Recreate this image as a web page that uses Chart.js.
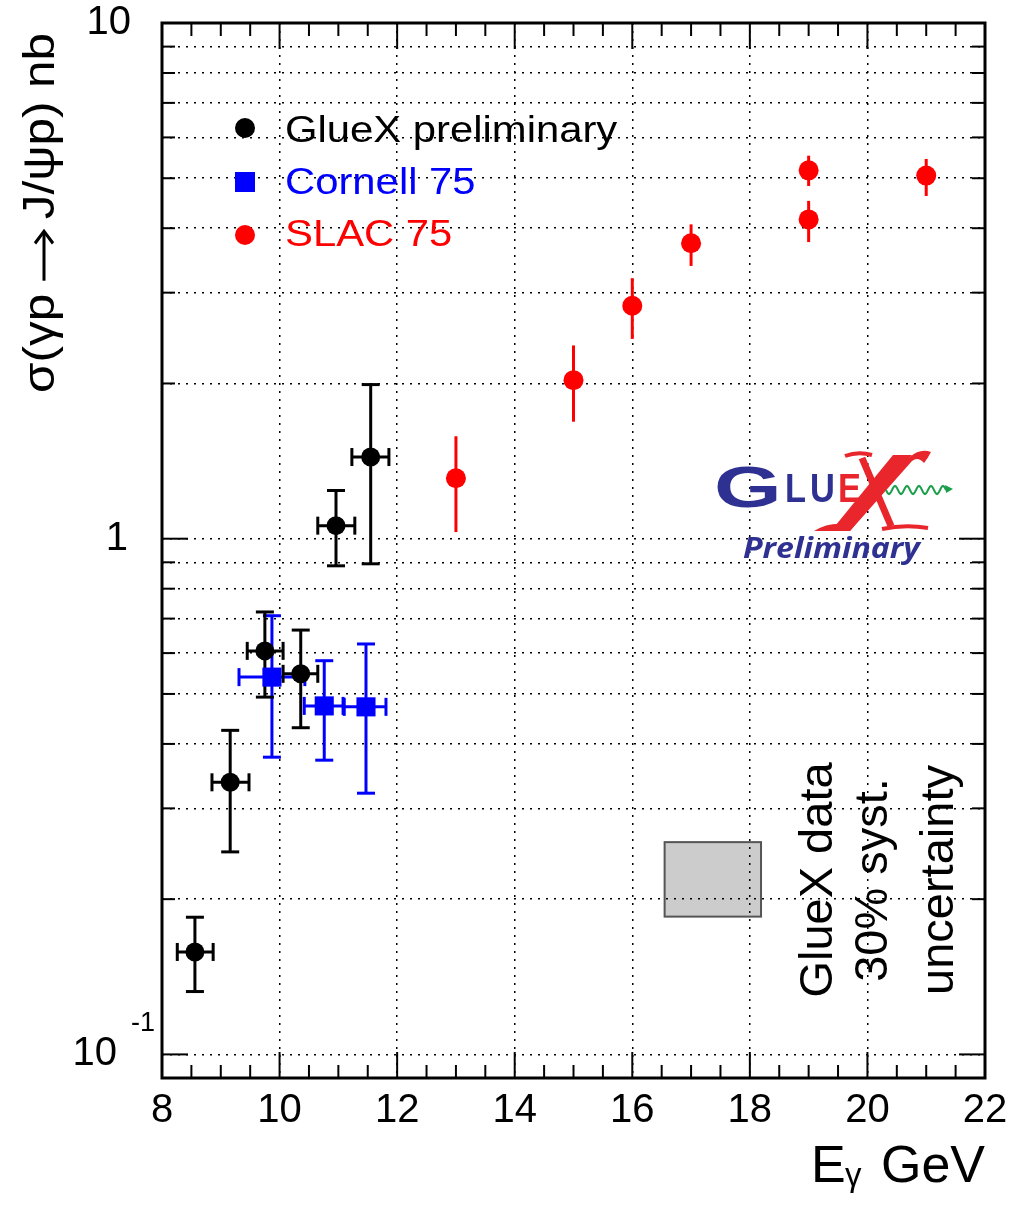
<!DOCTYPE html>
<html><head><meta charset="utf-8">
<script src="https://cdn.jsdelivr.net/npm/chart.js@4.4.1/dist/chart.umd.min.js"></script>
<style>html,body{margin:0;padding:0;background:#fff;} canvas{display:block;}</style>
</head><body>
<canvas id="c" width="1010" height="1205"></canvas>
<script>
// ---- tick / grid values ----
const xTickValues = [8, 10, 12, 14, 16, 18, 20, 22];
const yGridValues = [0.1,0.2,0.3,0.4,0.5,0.6,0.7,0.8,0.9,1,2,3,4,5,6,7,8,9,10];
const yLabelValues = [10, 1, 0.1];

// ---- GlueX preliminary ----
const gluexE      = [8.56, 9.16, 9.75, 10.36, 10.96, 11.55];
const gluexEMin   = [8.26, 8.85, 9.45, 10.06, 10.65, 11.23];
const gluexEMax   = [8.87, 9.48, 10.06, 10.65, 11.28, 11.86];
const gluexSigma  = [0.158, 0.337, 0.606, 0.547, 1.06, 1.44];
const gluexSigLo  = [0.1324, 0.247, 0.493, 0.430, 0.886, 0.894];
const gluexSigHi  = [0.1845, 0.425, 0.721, 0.665, 1.24, 1.99];

// ---- Cornell 75 ----
const cornellE     = [9.87, 10.76, 11.47];
const cornellEMin  = [9.31, 10.42, 11.10];
const cornellEMax  = [10.43, 11.08, 11.81];
const cornellSigma = [0.539, 0.474, 0.472];
const cornellSigLo = [0.377, 0.372, 0.321];
const cornellSigHi = [0.709, 0.580, 0.625];

// ---- SLAC 75 ----
const slacE     = [13, 15, 16, 17, 19, 19, 21];
const slacSigma = [1.31, 2.03, 2.83, 3.74, 4.16, 5.18, 5.06];
const slacSigLo = [1.03, 1.686, 2.44, 3.38, 3.76, 4.83, 4.62];
const slacSigHi = [1.58, 2.37, 3.20, 4.07, 4.52, 5.53, 5.45];

// ---- systematic band box ----
const systE = [16.55, 18.19];
const systSigma = [0.185, 0.258];

const FONT = '"Liberation Sans", Arial, Helvetica, sans-serif';

function pts(xs, ys, xl, xh, yl, yh) {
  return xs.map((v, i) => ({x: v, y: ys[i], xMin: xl ? xl[i] : null, xMax: xh ? xh[i] : null, yMin: yl[i], yMax: yh[i]}));
}

function line(ctx, x1, y1, x2, y2) { ctx.beginPath(); ctx.moveTo(x1, y1); ctx.lineTo(x2, y2); ctx.stroke(); }

const drawPlugin = {
  id: 'rootStyle',
  beforeDraw(chart) {
    const {ctx, scales: {x, y}} = chart;
    ctx.save();
    ctx.fillStyle = '#fff';
    ctx.fillRect(0, 0, chart.width, chart.height);
    const bx1 = x.getPixelForValue(systE[0]), bx2 = x.getPixelForValue(systE[1]);
    const by1 = y.getPixelForValue(systSigma[1]), by2 = y.getPixelForValue(systSigma[0]);
    ctx.fillStyle = '#cccccc';
    ctx.fillRect(bx1, by1, bx2 - bx1, by2 - by1);
    ctx.strokeStyle = '#555';
    ctx.lineWidth = 2;
    ctx.strokeRect(bx1, by1, bx2 - bx1, by2 - by1);
    ctx.restore();
  },
  beforeDatasetsDraw(chart) {
    const {ctx, scales: {x, y}} = chart;
    ctx.save();
    ctx.lineWidth = 3;
    chart.data.datasets.forEach(ds => {
      ctx.strokeStyle = ds.borderColor;
      const cap = ds.capSize;
      ds.data.forEach(p => {
        const px = x.getPixelForValue(p.x), py = y.getPixelForValue(p.y);
        const ylo = y.getPixelForValue(p.yMin), yhi = y.getPixelForValue(p.yMax);
        line(ctx, px, ylo, px, yhi);
        if (cap) { line(ctx, px - cap, ylo, px + cap, ylo); line(ctx, px - cap, yhi, px + cap, yhi); }
        if (p.xMin != null) {
          const xl = x.getPixelForValue(p.xMin), xh = x.getPixelForValue(p.xMax);
          line(ctx, xl, py, xh, py);
          if (cap) { line(ctx, xl, py - cap, xl, py + cap); line(ctx, xh, py - cap, xh, py + cap); }
        }
      });
    });
    ctx.restore();
  },
  afterDraw(chart) {
    const {ctx, chartArea: a, scales: {x, y}} = chart;
    ctx.save();
    // frame
    ctx.strokeStyle = '#000';
    ctx.lineWidth = 3;
    ctx.strokeRect(a.left, a.top, a.right - a.left, a.bottom - a.top);
    // inside ticks
    ctx.lineWidth = 2;
    for (let v = 8; v <= 22.001; v += 0.5) {
      const px = x.getPixelForValue(v);
      const len = (Math.abs(v % 2) < 1e-6) ? 26 : 13;
      line(ctx, px, a.bottom, px, a.bottom - len);
      line(ctx, px, a.top, px, a.top + len);
    }
    yGridValues.forEach(v => {
      const py = y.getPixelForValue(v);
      const m = Math.round(v / Math.pow(10, Math.floor(Math.log10(v) + 1e-9)));
      const len = m === 1 ? 26 : 13;
      line(ctx, a.left, py, a.left + len, py);
      line(ctx, a.right, py, a.right - len, py);
    });
    // y tick labels
    ctx.fillStyle = '#000';
    ctx.font = '40px ' + FONT;
    ctx.textBaseline = 'middle';
    ctx.textAlign = 'right';
    ctx.fillText('10', 131, y.getPixelForValue(yLabelValues[0]));
    ctx.fillText('1', 128, y.getPixelForValue(yLabelValues[1]));
    const p01 = y.getPixelForValue(yLabelValues[2]);
    ctx.fillText('10', 117, p01);
    ctx.textAlign = 'left';
    ctx.font = '27px ' + FONT;
    ctx.fillText('-1', 131, p01 - 31);

    // y title (drawn in three parts so the arrow can be long)
    ctx.save();
    ctx.translate(42, 393);
    ctx.rotate(-Math.PI / 2);
    ctx.font = '45px ' + FONT;
    ctx.textAlign = 'left';
    ctx.textBaseline = 'middle';
    const t1 = 'σ(γp', t2 = 'J/ψp) nb';
    const w1 = ctx.measureText(t1).width, w2 = ctx.measureText(t2).width;
    const arrowLen = 44, gap = 12;
    const total = w1 + gap + arrowLen + gap + w2;
    const sc = 360 / total;
    ctx.scale(sc, 1);
    ctx.fillText(t1, 0, 0);
    let ax = w1 + gap;
    ctx.lineWidth = 3;
    ctx.strokeStyle = '#000';
    line(ctx, ax, 2, ax + arrowLen, 2);
    ctx.beginPath();
    ctx.moveTo(ax + arrowLen - 10, -7); ctx.lineTo(ax + arrowLen + 1, 2); ctx.lineTo(ax + arrowLen - 10, 11);
    ctx.stroke();
    ctx.fillText(t2, ax + arrowLen + gap, 0);
    ctx.restore();

    // x title
    ctx.textBaseline = 'alphabetic';
    ctx.font = '52px ' + FONT;
    ctx.textAlign = 'right';
    ctx.fillText('GeV', 985, 1182);
    ctx.textAlign = 'left';
    ctx.fillText('E', 811, 1182);
    ctx.font = '33px ' + FONT;
    ctx.fillText('γ', 845, 1186);

    // legend
    const legend = [
      {label: 'GlueX preliminary', color: '#000', shape: 'circle', y: 128, base: 142},
      {label: 'Cornell 75', color: '#0000ff', shape: 'square', y: 182, base: 194},
      {label: 'SLAC 75', color: '#ff0000', shape: 'circle', y: 235, base: 246},
    ];
    legend.forEach(it => {
      ctx.fillStyle = it.color;
      if (it.shape === 'circle') { ctx.beginPath(); ctx.arc(245, it.y, 10, 0, Math.PI * 2); ctx.fill(); }
      else ctx.fillRect(235, it.y - 10, 20, 20);
      ctx.save();
      ctx.translate(285, it.base);
      ctx.scale(1.13, 1);
      ctx.font = '37px ' + FONT;
      ctx.textAlign = 'left';
      ctx.fillText(it.label, 0, 0);
      ctx.restore();
    });

    // rotated annotation
    ctx.fillStyle = '#000';
    ctx.font = '47px ' + FONT;
    ctx.textAlign = 'center';
    ctx.textBaseline = 'alphabetic';
    [['GlueX data', 832], ['30% syst.', 887], ['uncertainty', 953]].forEach(([t, bx]) => {
      ctx.save();
      ctx.translate(bx, 880);
      ctx.rotate(-Math.PI / 2);
      ctx.fillText(t, 0, 0);
      ctx.restore();
    });

    // GlueX logo
    const blue = '#2e3192', red = '#e8262b';
    ctx.textAlign = 'left';
    ctx.fillStyle = blue;
    ctx.save();
    ctx.translate(714, 507);
    ctx.scale(1.5, 1);
    ctx.font = 'bold 58px ' + FONT;
    ctx.fillText('G', 0, 0);
    ctx.restore();
    ctx.font = 'bold 40px ' + FONT;
    const logoLetters = [['L', 785, blue], ['U', 810, blue], ['E', 838, red]];
    logoLetters.forEach(([ch, lx, col]) => {
      ctx.save();
      ctx.fillStyle = col;
      ctx.translate(lx, 502);
      ctx.scale(0.86, 1);
      ctx.fillText(ch, 0, 0);
      ctx.restore();
    });
    // big calligraphic X drawn as shapes
    ctx.fillStyle = red;
    ctx.strokeStyle = red;
    ctx.beginPath();
    ctx.moveTo(814, 531);
    ctx.quadraticCurveTo(828, 522, 846, 524);
    ctx.lineTo(910, 457);
    ctx.quadraticCurveTo(920, 448, 931, 452);
    ctx.quadraticCurveTo(928, 458, 924, 463);
    ctx.quadraticCurveTo(918, 456, 912, 461);
    ctx.lineTo(850, 531);
    ctx.closePath();
    ctx.fill();
    ctx.beginPath();
    ctx.moveTo(893, 455); ctx.lineTo(912, 455); ctx.lineTo(850, 531); ctx.lineTo(831, 531); ctx.closePath();
    ctx.fill();
    ctx.lineWidth = 7;
    line(ctx, 862, 458, 891, 526);
    ctx.lineWidth = 4;
    ctx.beginPath(); ctx.moveTo(845, 456); ctx.quadraticCurveTo(858, 451, 872, 455); ctx.stroke();
    ctx.beginPath(); ctx.moveTo(882, 529); ctx.quadraticCurveTo(905, 524, 928, 528); ctx.stroke();
    // green wave
    ctx.strokeStyle = '#1a9e4a';
    ctx.lineWidth = 2;
    ctx.beginPath();
    for (let t = 0; t <= 60; t++) {
      const px = 886 + t, py = 490 + 4 * Math.sin(t / 60 * 5 * 2 * Math.PI);
      if (t === 0) ctx.moveTo(px, py); else ctx.lineTo(px, py);
    }
    ctx.stroke();
    ctx.fillStyle = '#1a9e4a';
    ctx.beginPath(); ctx.moveTo(953, 489); ctx.lineTo(945, 485); ctx.lineTo(946, 493); ctx.closePath(); ctx.fill();
    // Preliminary
    ctx.fillStyle = blue;
    ctx.save();
    ctx.font = 'italic bold 28px "Open Sans", ' + FONT;
    const pw = ctx.measureText('Preliminary').width;
    ctx.translate(743, 558);
    ctx.scale(177 / pw, 1);
    ctx.fillText('Preliminary', 0, 0);
    ctx.restore();

    ctx.restore();
  }
};

new Chart(document.getElementById('c'), {
  type: 'scatter',
  data: {
    datasets: [
      {label: 'SLAC 75', data: pts(slacE, slacSigma, null, null, slacSigLo, slacSigHi),
       backgroundColor: '#ff0000', borderColor: '#ff0000', pointStyle: 'circle', pointRadius: 10, borderWidth: 0, capSize: 0},
      {label: 'Cornell 75', data: pts(cornellE, cornellSigma, cornellEMin, cornellEMax, cornellSigLo, cornellSigHi),
       backgroundColor: '#0000ff', borderColor: '#0000ff', pointStyle: 'rect', pointRadius: 13.5, borderWidth: 0, capSize: 9},
      {label: 'GlueX preliminary', data: pts(gluexE, gluexSigma, gluexEMin, gluexEMax, gluexSigLo, gluexSigHi),
       backgroundColor: '#000000', borderColor: '#000000', pointStyle: 'circle', pointRadius: 9.5, borderWidth: 0, capSize: 9},
    ]
  },
  options: {
    responsive: false,
    devicePixelRatio: 1,
    animation: false,
    events: [],
    layout: {padding: {top: 23, right: 25, left: 0, bottom: 0}},
    plugins: {legend: {display: false}, tooltip: {enabled: false}},
    scales: {
      x: {
        type: 'linear', min: 8, max: 22,
        afterBuildTicks: s => { s.ticks = xTickValues.map(v => ({value: v})); },
        afterFit: s => { s.height = 127; s.paddingLeft = 0; s.paddingRight = 0; },
        ticks: {font: {family: FONT, size: 40}, color: '#000', padding: 9, maxRotation: 0, autoSkip: false},
        grid: {color: '#000', lineWidth: 1.5, drawTicks: false},
        border: {display: false, dash: [2, 6]}
      },
      y: {
        type: 'logarithmic', min: 0.09, max: 10,
        afterBuildTicks: s => { s.ticks = yGridValues.map(v => ({value: v})); },
        afterFit: s => { s.width = 162; },
        ticks: {display: false},
        grid: {color: '#000', lineWidth: 1.5, drawTicks: false},
        border: {display: false, dash: [2, 6]}
      }
    }
  },
  plugins: [drawPlugin]
});
</script>
</body></html>
